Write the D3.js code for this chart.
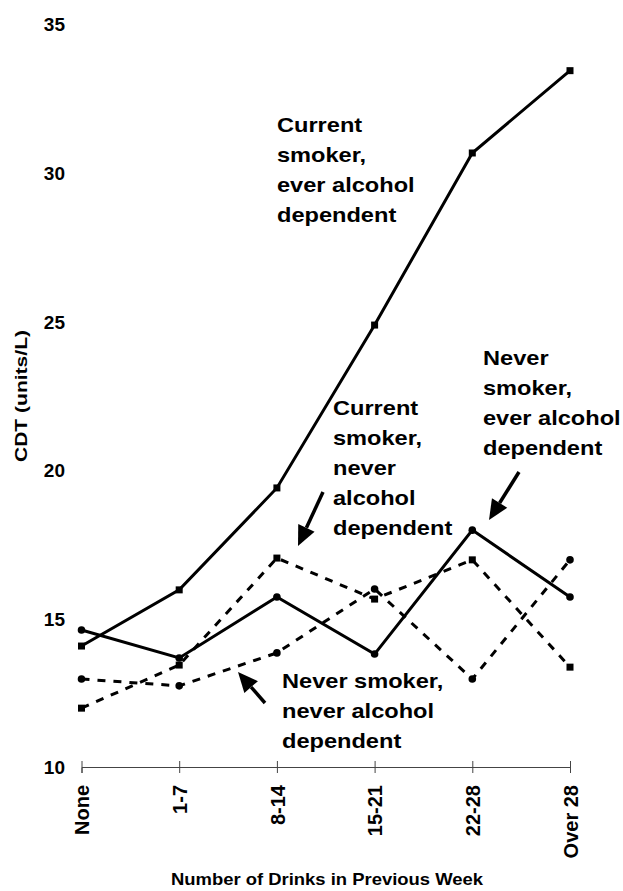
<!DOCTYPE html>
<html>
<head>
<meta charset="utf-8">
<title>CDT by drinks</title>
<style>
  body { margin: 0; background: #fff; }
  text { font-family: "Liberation Sans", Arial, Helvetica, sans-serif; font-weight: bold; fill: #000; }
</style>
</head>
<body>
<svg width="623" height="891"></svg>
<script src="https://d3js.org/d3.v7.min.js"></script>
<script>
const categories = ['None', '1-7', '8-14', '15-21', '22-28', 'Over 28'];
const yTicks = [10, 15, 20, 25, 30, 35];

// CDT (units/L) per group
const smokerEverDep   = [14.07, 15.96, 19.39, 24.87, 30.66, 33.43];
const neverEverDep    = [14.61, 13.67, 15.72, 13.80, 17.97, 15.72];
const smokerNeverDep  = [11.98, 13.43, 17.03, 15.65, 16.97, 13.36];
const neverNeverDep   = [12.96, 12.73, 13.84, 15.99, 12.96, 16.97];

const series = [
  { values: smokerEverDep,  dash: null,  marker: 'square' },
  { values: neverEverDep,   dash: null,  marker: 'circle' },
  { values: smokerNeverDep, dash: '8,8', marker: 'square' },
  { values: neverNeverDep,  dash: '8,8', marker: 'circle' }
];

const svg = d3.select('svg');

const x = d3.scalePoint().domain(categories).range([81.5, 570]);
const y = d3.scaleLinear().domain([10, 35]).range([767, 24]);

// x axis: thin line with ticks crossing it
const xAxis = svg.append('g')
  .attr('transform', 'translate(0,767)')
  .call(d3.axisBottom(x).tickSizeOuter(0).tickSize(6));
xAxis.select('.domain').attr('stroke', '#444').attr('stroke-width', 1);
xAxis.selectAll('.tick line').attr('y1', -6).attr('y2', 6).attr('stroke', '#444');
xAxis.selectAll('.tick text')
  .attr('transform', 'rotate(-90)')
  .attr('text-anchor', 'end')
  .attr('x', -18)
  .attr('y', 0)
  .attr('dy', '0.36em')
  .style('font-size', '20px');

// y axis: labels only
const yAxis = svg.append('g')
  .attr('transform', 'translate(65,0)')
  .call(d3.axisLeft(y).tickValues(yTicks).tickSize(0).tickPadding(0));
yAxis.select('.domain').remove();
yAxis.selectAll('.tick text').style('font-size', '19px').attr('dy', '0.36em');

// titles
svg.append('text')
  .attr('transform', 'translate(27,396) rotate(-90)')
  .attr('text-anchor', 'middle')
  .attr('textLength', 132)
  .attr('lengthAdjust', 'spacingAndGlyphs')
  .style('font-size', '17px')
  .text('CDT (units/L)');

svg.append('text')
  .attr('x', 327).attr('y', 885)
  .attr('text-anchor', 'middle')
  .attr('textLength', 312)
  .attr('lengthAdjust', 'spacingAndGlyphs')
  .style('font-size', '17px')
  .text('Number of Drinks in Previous Week');

// lines
const line = d3.line()
  .x((d, i) => x(categories[i]))
  .y(d => y(d));

series.forEach(s => {
  svg.append('path')
    .datum(s.values)
    .attr('d', line)
    .attr('fill', 'none')
    .attr('stroke', '#000')
    .attr('stroke-width', 3)
    .attr('stroke-dasharray', s.dash);

  const pts = svg.append('g').selectAll('.pt').data(s.values).enter();
  if (s.marker === 'square') {
    pts.append('rect')
      .attr('x', (d, i) => x(categories[i]) - 3.5)
      .attr('y', d => y(d) - 3.5)
      .attr('width', 7).attr('height', 7)
      .attr('fill', '#000');
  } else {
    pts.append('circle')
      .attr('cx', (d, i) => x(categories[i]))
      .attr('cy', d => y(d))
      .attr('r', 3.8)
      .attr('fill', '#000');
  }
});

// annotations
function label(px, py, lines) {
  const t = svg.append('text')
    .attr('transform', `translate(${px},${py}) scale(1.18,1)`)
    .style('font-size', '20px');
  lines.forEach((l, i) => {
    t.append('tspan').attr('x', 0).attr('y', i * 30).text(l);
  });
}
label(277, 132, ['Current', 'smoker,', 'ever alcohol', 'dependent']);
label(333, 415, ['Current', 'smoker,', 'never', 'alcohol', 'dependent']);
label(483, 365, ['Never', 'smoker,', 'ever alcohol', 'dependent']);
label(282, 688, ['Never smoker,', 'never alcohol', 'dependent']);

function arrow(x1, y1, x2, y2) {
  const ang = Math.atan2(y2 - y1, x2 - x1);
  const len = 20, half = 9;
  const bx = x2 - len * Math.cos(ang), by = y2 - len * Math.sin(ang);
  svg.append('line')
    .attr('x1', x1).attr('y1', y1).attr('x2', bx).attr('y2', by)
    .attr('stroke', '#000').attr('stroke-width', 3.5);
  const pts = [
    [x2, y2],
    [bx + half * Math.sin(ang), by - half * Math.cos(ang)],
    [bx - half * Math.sin(ang), by + half * Math.cos(ang)]
  ];
  svg.append('polygon').attr('points', pts.map(p => p.join(',')).join(' ')).attr('fill', '#000');
}
arrow(323, 492, 298, 546);
arrow(519, 472, 489, 520);
arrow(265, 703, 238, 672);
</script>
</body>
</html>
